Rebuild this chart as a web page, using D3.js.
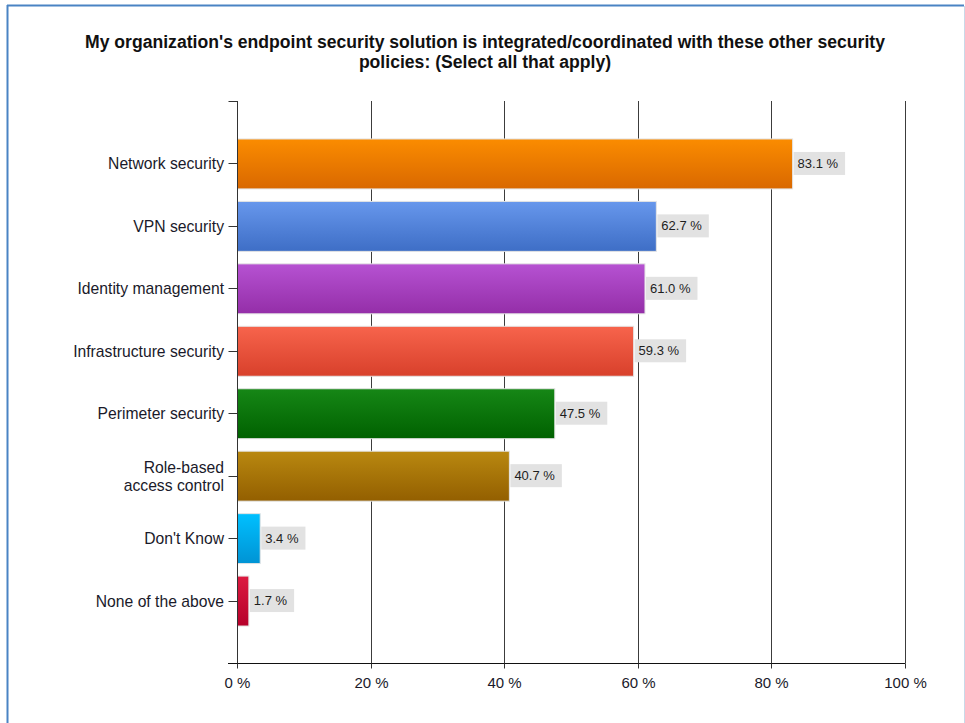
<!DOCTYPE html>
<html>
<head>
<meta charset="utf-8">
<script src="https://cdn.jsdelivr.net/npm/d3@7"></script>
<style>
  html, body { margin: 0; padding: 0; background: #fff; }
  svg { display: block; font-family: "Liberation Sans", Arial, sans-serif; }
</style>
</head>
<body>
<svg id="chart" width="965" height="723"></svg>
<script>
const titleLines = [
  "My organization's endpoint security solution is integrated/coordinated with these other security",
  "policies: (Select all that apply)"
];
const categories = [
  ["Network security"],
  ["VPN security"],
  ["Identity management"],
  ["Infrastructure security"],
  ["Perimeter security"],
  ["Role-based", "access control"],
  ["Don't Know"],
  ["None of the above"]
];
const values = [83.1, 62.7, 61.0, 59.3, 47.5, 40.7, 3.4, 1.7];
const colorsTop = ["#fb8c00", "#6797ec", "#b652d2", "#f7644c", "#168716", "#b98810", "#00c0ff", "#dc1a40"];
const colorsBottom = ["#d96800", "#3e6ec6", "#942ea8", "#d8402b", "#006100", "#935f00", "#0093d4", "#b6002a"];
const xTicks = [0, 20, 40, 60, 80, 100];

const svg = d3.select("#chart");

// frame
svg.append("line").attr("x1", 7.5).attr("x2", 7.5).attr("y1", 5).attr("y2", 723)
  .attr("stroke", "#4a84c4").attr("stroke-width", 2);
svg.append("line").attr("x1", 7).attr("x2", 964).attr("y1", 5.5).attr("y2", 5.5)
  .attr("stroke", "#4a84c4").attr("stroke-width", 2);
svg.append("line").attr("x1", 964.5).attr("x2", 964.5).attr("y1", 6).attr("y2", 723)
  .attr("stroke", "#c9d9e8").attr("stroke-width", 1);

// title
const title = svg.append("text").attr("text-anchor", "middle")
  .attr("font-size", 17.6).attr("font-weight", "bold").attr("fill", "#111");
titleLines.forEach((t, i) => {
  title.append("tspan").attr("x", 485).attr("y", 48 + i * 19.5).text(t);
});

const pL = 237, pR = 905, pT = 101, pB = 663;
const x = d3.scaleLinear().domain([0, 100]).range([pL, pR]);
const y = d3.scaleBand().domain(d3.range(categories.length)).range([pT, pB])
  .paddingInner(0.2).paddingOuter(0.6);

// gradients
const defs = svg.append("defs");
values.forEach((v, i) => {
  const g = defs.append("linearGradient").attr("id", "g" + i)
    .attr("x1", 0).attr("x2", 0).attr("y1", 0).attr("y2", 1);
  g.append("stop").attr("offset", "0%").attr("stop-color", colorsTop[i]);
  g.append("stop").attr("offset", "100%").attr("stop-color", colorsBottom[i]);
});

// grid lines
svg.append("g").selectAll("line").data(xTicks.slice(1)).join("line")
  .attr("x1", d => Math.round(x(d)) + 0.5).attr("x2", d => Math.round(x(d)) + 0.5)
  .attr("y1", pT).attr("y2", pB)
  .attr("stroke", "#3c3c3c").attr("stroke-width", 1);

// bars
svg.append("g").selectAll("rect").data(values).join("rect")
  .attr("x", x(0) + 0.5)
  .attr("y", (d, i) => y(i) + 0.5)
  .attr("width", d => x(d) - x(0))
  .attr("height", y.bandwidth())
  .attr("fill", (d, i) => `url(#g${i})`)
  .attr("stroke", "#e4e4e4").attr("stroke-width", 1);

// value labels
const lab = svg.append("g").selectAll("g").data(values).join("g")
  .attr("transform", (d, i) => `translate(${x(d) + 1.5},${y(i) + y.bandwidth() / 2})`);
lab.append("text")
  .attr("x", 4).attr("dy", "0.35em")
  .attr("font-size", 13).attr("fill", "#1e1e1e")
  .text(d => d.toFixed(1) + " %");
lab.each(function () {
  const g = d3.select(this);
  const w = g.select("text").node().getComputedTextLength();
  g.insert("rect", "text").attr("x", 0).attr("y", -11.5)
    .attr("width", w + 11).attr("height", 23).attr("fill", "#e2e2e2");
});

// y axis
const yAxis = svg.append("g").attr("transform", `translate(${pL + 0.5},0)`);
yAxis.append("line").attr("x1", 0).attr("x2", 0).attr("y1", pT).attr("y2", pB + 5)
  .attr("stroke", "#333");
yAxis.append("line").attr("x1", -9).attr("x2", 0).attr("y1", pT + 0.5).attr("y2", pT + 0.5)
  .attr("stroke", "#333");
const yt = yAxis.selectAll("g.t").data(categories).join("g").attr("class", "t")
  .attr("transform", (d, i) => `translate(0,${Math.round(y(i) + y.bandwidth() / 2) + 0.5})`);
yt.append("line").attr("x1", -9).attr("x2", 0).attr("stroke", "#333");
yt.append("text").attr("text-anchor", "end").attr("font-size", 15.7).attr("fill", "#1a1a2a")
  .each(function (d) {
    const t = d3.select(this);
    d.forEach((line, k) => {
      t.append("tspan").attr("x", -13.5)
        .attr("y", (k - (d.length - 1) / 2) * 19)
        .attr("dy", "0.35em").text(line);
    });
  });

// x axis
const xAxisG = svg.append("g").attr("transform", `translate(0,${pB + 0.5})`);
xAxisG.append("line").attr("x1", pL - 9).attr("x2", pR + 0.5).attr("stroke", "#111");
const xt = xAxisG.selectAll("g").data(xTicks).join("g")
  .attr("transform", d => `translate(${Math.round(x(d)) + 0.5},0)`);
xt.append("line").attr("y1", 0).attr("y2", 5).attr("stroke", "#333");
xt.append("text").attr("y", 19).attr("dy", "0.35em").attr("text-anchor", "middle")
  .attr("font-size", 15).attr("fill", "#1a1a2a").text(d => d + " %");
</script>
</body>
</html>
